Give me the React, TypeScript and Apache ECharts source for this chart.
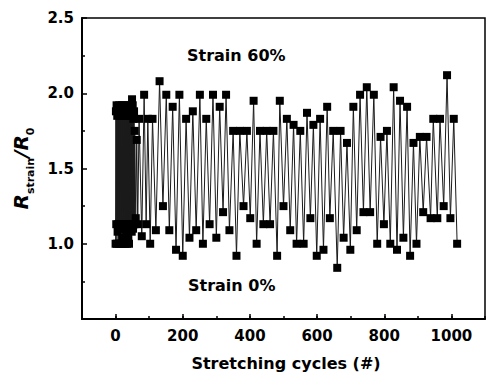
import React, { useEffect, useRef } from "react";
import * as echarts from "echarts";

// Stretching cycle number (#)
const cycles = [
  0, 1, 2, 3, 4, 5, 6, 7, 8, 9, 10, 11, 12, 13, 14, 15, 16, 17, 18, 19, 20, 21, 22, 23, 24, 25, 26, 27, 28, 29,
  30, 31, 32, 33, 34, 35, 36, 37, 38, 39, 40, 41, 42, 43, 44, 45, 46, 47, 48, 49, 50, 51, 52, 53, 54, 55, 56, 57,
  60, 63, 66, 70, 78, 85, 91, 96, 103, 110, 120, 131, 141, 151, 160, 170, 180, 190, 200, 210, 220, 230, 240, 251,
  260, 270, 280, 290, 300, 310, 320, 329, 339, 350, 360, 370, 381, 391, 401, 411, 420, 430, 440, 450, 460, 470, 481,
  489, 500, 510, 520, 530, 539, 550, 560, 570, 580, 589, 599, 609, 619, 630, 638, 648, 660, 670, 679, 689, 699, 708,
  718, 728, 738, 748, 758, 769, 779, 789, 799, 808, 818, 828, 838, 847, 857, 868, 877, 887, 896, 906, 916, 926, 938,
  946, 958, 966, 977, 987, 997, 1007, 1017,
];

// R_strain / R_0
const resistance = [
  1.0, 1.88, 1.13, 1.92, 1.0, 1.85, 1.08, 1.9, 1.13, 1.88, 1.0, 1.92, 1.1, 1.85, 1.13, 1.9, 1.0, 1.87, 1.13, 1.92,
  1.04, 1.88, 1.0, 1.85, 1.13, 1.92, 1.1, 1.88, 1.0, 1.9, 1.13, 1.85, 1.08, 1.92, 1.0, 1.87, 1.13, 1.9, 1.05, 1.88,
  1.0, 1.85, 1.13, 1.92, 1.1, 1.9, 1.13, 1.88, 1.08, 1.96, 1.13, 1.92, 1.1, 1.83, 1.13, 1.88, 1.13, 1.75,
  1.17, 1.69, 1.13, 1.83, 1.05, 1.99, 1.13, 1.83, 1.0, 1.83, 1.09, 2.08, 1.25, 1.99, 1.09, 1.91, 0.96, 1.99, 0.92,
  1.83, 1.04, 1.88, 1.09, 1.99, 1.0, 1.83, 1.13, 1.99, 1.04, 1.91, 1.21, 1.99, 1.09, 1.75, 0.92, 1.75, 1.25, 1.75,
  1.17, 1.95, 1.0, 1.75, 1.13, 1.75, 1.13, 1.75, 0.92, 1.95, 1.25, 1.83, 1.09, 1.79, 1.0, 1.75, 1.0, 1.87, 1.17,
  1.79, 0.92, 1.83, 0.96, 1.91, 1.17, 1.75, 0.84, 1.75, 1.04, 1.67, 0.96, 1.91, 1.09, 1.99, 1.21, 2.04, 1.21, 1.99,
  1.0, 1.71, 1.13, 1.75, 1.0, 2.04, 0.96, 1.95, 1.04, 1.91, 0.92, 1.67, 1.0, 1.71, 1.21, 1.71, 1.17, 1.83, 1.17,
  1.83, 1.25, 2.12, 1.17, 1.83, 1.0,
];

const xTickLabels = [0, 200, 400, 600, 800, 1000];
const yTickLabels = [1.0, 1.5, 2.0, 2.5];

const FONT = "DejaVu Sans";

export default function App() {
  const ref = useRef<HTMLDivElement>(null);

  useEffect(() => {
    document.body.style.margin = "0";
    if (!ref.current) return;
    const chart = echarts.init(ref.current, null, { renderer: "svg" });
    const data = cycles.map((c, i) => [c, resistance[i]]);

    const labelStyle = {
      fontFamily: FONT,
      fontWeight: "bold" as const,
      fontSize: 15,
      color: "#000",
    };

    chart.setOption({
      animation: false,
      backgroundColor: "#fff",
      grid: {
        left: 82,
        top: 18,
        width: 409,
        height: 301,
        show: true,
        borderColor: "#000",
        borderWidth: 1.5,
        backgroundColor: "transparent",
      },
      xAxis: [
        {
          type: "value",
          position: "bottom",
          min: -100,
          max: 1100,
          interval: 100,
          axisLine: { onZero: false, lineStyle: { color: "#000", width: 2 } },
          axisTick: { inside: true, length: 3, lineStyle: { color: "#000", width: 1.5 } },
          axisLabel: {
            ...labelStyle,
            margin: 9,
            formatter: (v: number) => (xTickLabels.includes(v) ? String(v) : ""),
          },
          splitLine: { show: false },
        },
        {
          type: "value",
          position: "bottom",
          min: -100,
          max: 1100,
          interval: 100,
          axisLine: { show: false, onZero: false },
          axisTick: {
            inside: true,
            length: 5,
            customValues: xTickLabels,
            lineStyle: { color: "#000", width: 1.5 },
          },
          axisLabel: { show: false },
          splitLine: { show: false },
        },
      ],
      yAxis: {
        type: "value",
        position: "left",
        min: 0.5,
        max: 2.5,
        interval: 0.5,
        axisLine: { show: true, onZero: false, lineStyle: { color: "#000", width: 2 } },
        axisTick: { show: true, inside: true, length: 5, lineStyle: { color: "#000", width: 1.5 } },
        minorTick: { show: true, splitNumber: 2, length: 3, lineStyle: { color: "#000", width: 1.5 } },
        axisLabel: {
          ...labelStyle,
          margin: 8,
          formatter: (v: number) =>
            yTickLabels.some((t) => Math.abs(t - v) < 1e-9) ? v.toFixed(1) : "",
        },
        splitLine: { show: false },
        name: "{i|R}{s|strain}{i|/R}{s|0}",
        nameLocation: "middle",
        nameRotate: 90,
        nameGap: 46,
        nameTextStyle: {
          rich: {
            i: {
              fontFamily: FONT,
              fontStyle: "italic",
              fontWeight: "bold",
              fontSize: 20,
              lineHeight: 30,
              color: "#000",
            },
            s: {
              fontFamily: FONT,
              fontWeight: "bold",
              fontSize: 11,
              lineHeight: 12,
              verticalAlign: "bottom",
              color: "#000",
            },
          },
        },
      },
      series: [
        {
          type: "line",
          xAxisIndex: 0,
          data,
          symbol: "rect",
          symbolSize: 8,
          showSymbol: true,
          showAllSymbol: true,
          itemStyle: { color: "#000" },
          lineStyle: { color: "#1a1a1a", width: 1 },
        },
      ],
      graphic: [
        {
          type: "text",
          left: 187,
          top: 47,
          style: { text: "Strain 60%", font: `bold 16px "${FONT}"`, fill: "#000" },
        },
        {
          type: "text",
          left: 188,
          top: 277,
          style: { text: "Strain 0%", font: `bold 16px "${FONT}"`, fill: "#000" },
        },
        {
          type: "text",
          x: 286,
          y: 363,
          style: {
            text: "Stretching cycles (#)",
            font: `bold 16px "${FONT}"`,
            fill: "#000",
            align: "center",
            verticalAlign: "middle",
          },
        },
      ],
    });

    return () => chart.dispose();
  }, []);

  return (
    <div
      ref={ref}
      style={{ position: "absolute", left: 0, top: 0, width: 488, height: 375 }}
    />
  );
}
